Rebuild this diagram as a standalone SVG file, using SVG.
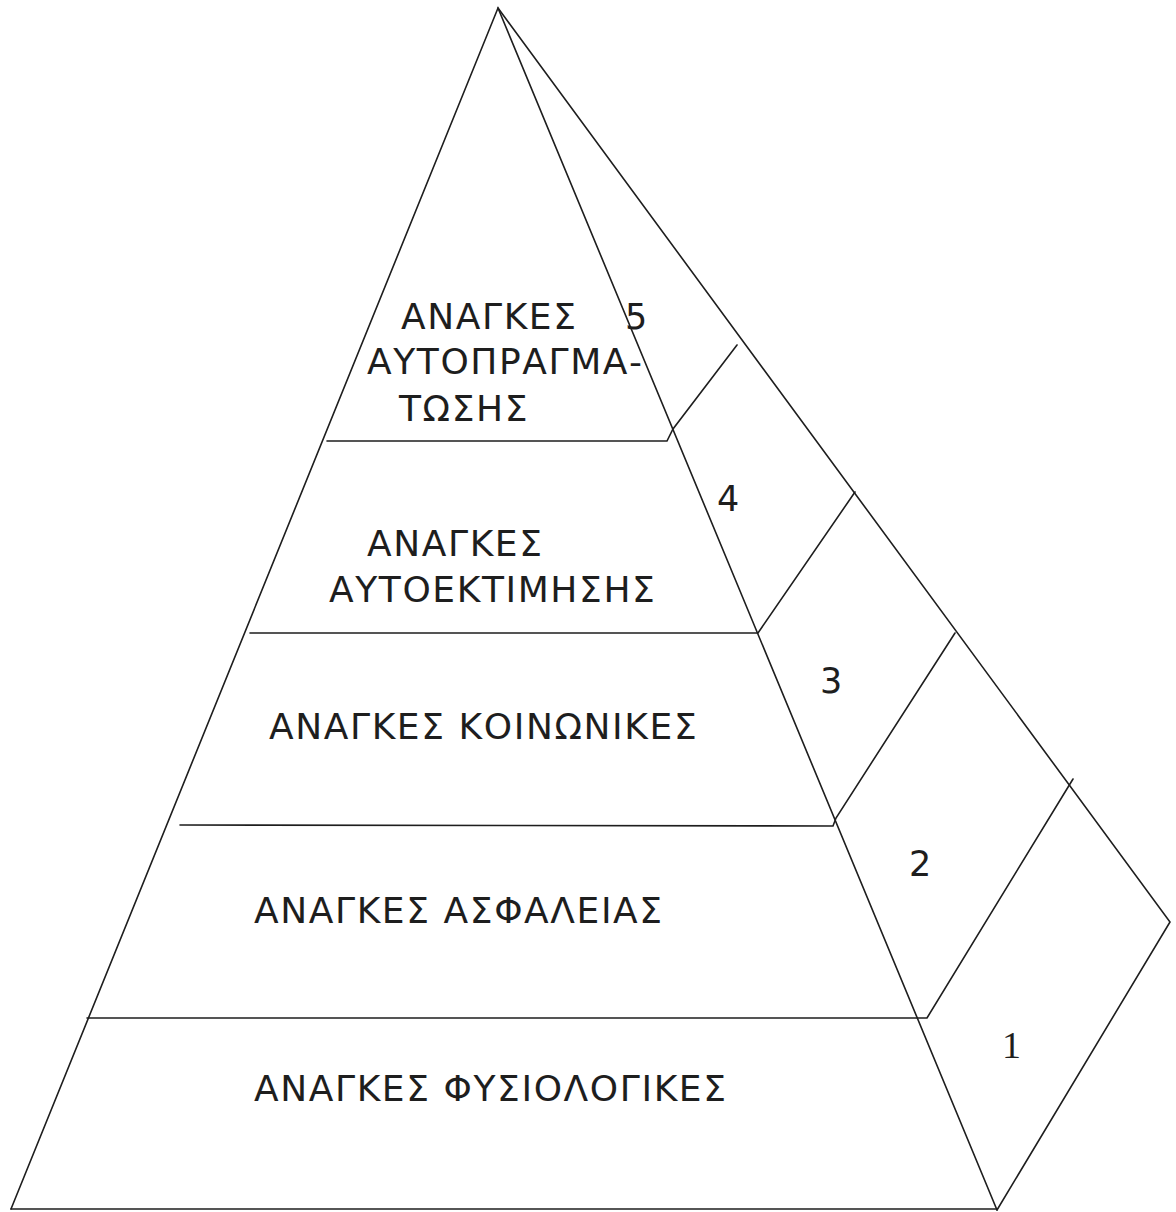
<svg xmlns="http://www.w3.org/2000/svg" width="1176" height="1212" viewBox="0 0 1176 1212">
<style>
.ln{fill:none;stroke:#1e1e1e;stroke-width:1.6;stroke-linejoin:miter;stroke-linecap:round}
.lbl{font-family:"DejaVu Sans","Noto Sans",sans-serif;font-size:36px;letter-spacing:1.6px;fill:#1e1e1e}
.num{font-family:"DejaVu Sans","Noto Sans",sans-serif;font-size:35px;fill:#1e1e1e}
.num1{font-family:"Liberation Serif",serif;font-size:38px;fill:#1e1e1e}
</style>
<rect width="1176" height="1212" fill="#fff"/>
<g id="connectors">
<polyline class="ln" points="11,1209 498,8 997,1210"/>
<polyline class="ln" points="498,8 1170,922 997,1210"/>
<line class="ln" x1="11" y1="1209" x2="997" y2="1209"/>
<polyline class="ln" points="327,441 667,441 673,429 737,345"/>
<polyline class="ln" points="250,633 758,633 855,492"/>
<polyline class="ln" points="180,825 833,826 836,818 955,633"/>
<polyline class="ln" points="87,1018 927,1018 1073,779"/>
</g>
<g id="tier5">
<text class="lbl" x="401" y="329">ΑΝΑΓΚΕΣ</text>
<text class="lbl" x="367" y="374">ΑΥΤΟΠΡΑΓΜΑ-</text>
<text class="lbl" x="399" y="421">ΤΩΣΗΣ</text>
<text class="num" x="625" y="329">5</text>
</g>
<g id="tier4">
<text class="lbl" x="367" y="556">ΑΝΑΓΚΕΣ</text>
<text class="lbl" x="329" y="602">ΑΥΤΟΕΚΤΙΜΗΣΗΣ</text>
<text class="num" x="717" y="511">4</text>
</g>
<g id="tier3">
<text class="lbl" x="269" y="739">ΑΝΑΓΚΕΣ ΚΟΙΝΩΝΙΚΕΣ</text>
<text class="num" x="820" y="693">3</text>
</g>
<g id="tier2">
<text class="lbl" x="254" y="923">ΑΝΑΓΚΕΣ ΑΣΦΑΛΕΙΑΣ</text>
<text class="num" x="909" y="876">2</text>
</g>
<g id="tier1">
<text class="lbl" x="254" y="1101">ΑΝΑΓΚΕΣ ΦΥΣΙΟΛΟΓΙΚΕΣ</text>
<text class="num1" x="1002" y="1058">1</text>
</g>
</svg>
